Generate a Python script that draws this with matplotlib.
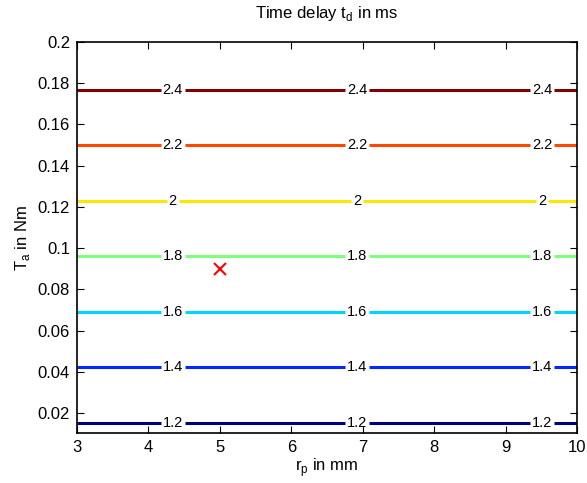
import numpy as np
import matplotlib
matplotlib.use("Agg")
import matplotlib.pyplot as plt

plt.rcParams['font.family'] = ['Liberation Sans', 'DejaVu Sans']
plt.rcParams['mathtext.fontset'] = 'custom'
plt.rcParams['mathtext.rm'] = 'Liberation Sans'

# Pulley radius samples (mm)
r_p = [3.0, 10.0]
# Load torque samples (Nm) and the corresponding time delay (ms)
T_a = [0.0103, 0.0153, 0.0422, 0.0691, 0.0960, 0.1229, 0.1498, 0.1768, 0.2000]
t_d = [1.163, 1.2, 1.4, 1.6, 1.8, 2.0, 2.2, 2.4, 2.573]
levels = [1.2, 1.4, 1.6, 1.8, 2.0, 2.2, 2.4]
label_x = [4.34, 6.92, 9.51]

# Operating point
op_r = [5.0]
op_T = [0.09]

R, T = np.meshgrid(r_p, T_a)
Z = np.tile(np.array(t_d)[:, None], (1, len(r_p)))

fig = plt.figure(figsize=(5.87, 4.83), dpi=100)
ax = fig.add_axes([0.1312, 0.1035, 0.8518, 0.8095])

cs = ax.contour(R, T, Z, levels=levels, cmap='jet', linewidths=2.2)
positions = []
for lv in levels:
    yl = np.interp(lv, t_d, T_a)
    for xl in label_x:
        positions.append((xl, yl))
ax.clabel(cs, levels, manual=positions, inline=True, inline_spacing=2,
          fontsize=10.5, colors='k', fmt=lambda v: f"{v:g}")

ax.plot(op_r, op_T, 'x', color='red', markersize=9, markeredgewidth=1.5)

ax.set_xlim(3, 10)
ax.set_ylim(0.0103, 0.2)
ax.set_xticks(np.arange(3, 11, 1))
yt = np.round(np.arange(0.02, 0.201, 0.02), 2)
ax.set_yticks(yt)
ax.set_yticklabels([f"{v:g}" for v in yt])
ax.tick_params(direction='in', top=True, right=True, labelsize=12, length=5, width=0.8, pad=5)
for s in ax.spines.values():
    s.set_linewidth(1.2)

ax.set_title(r"Time delay t$_{\mathrm{d}}$ in ms", fontsize=12, pad=17)
ax.set_xlabel(r"r$_{\mathrm{p}}$ in mm", fontsize=12, labelpad=1)
ax.set_ylabel(r"T$_{\mathrm{a}}$ in Nm", fontsize=12, labelpad=4)

fig.savefig("out.png", dpi=100)
